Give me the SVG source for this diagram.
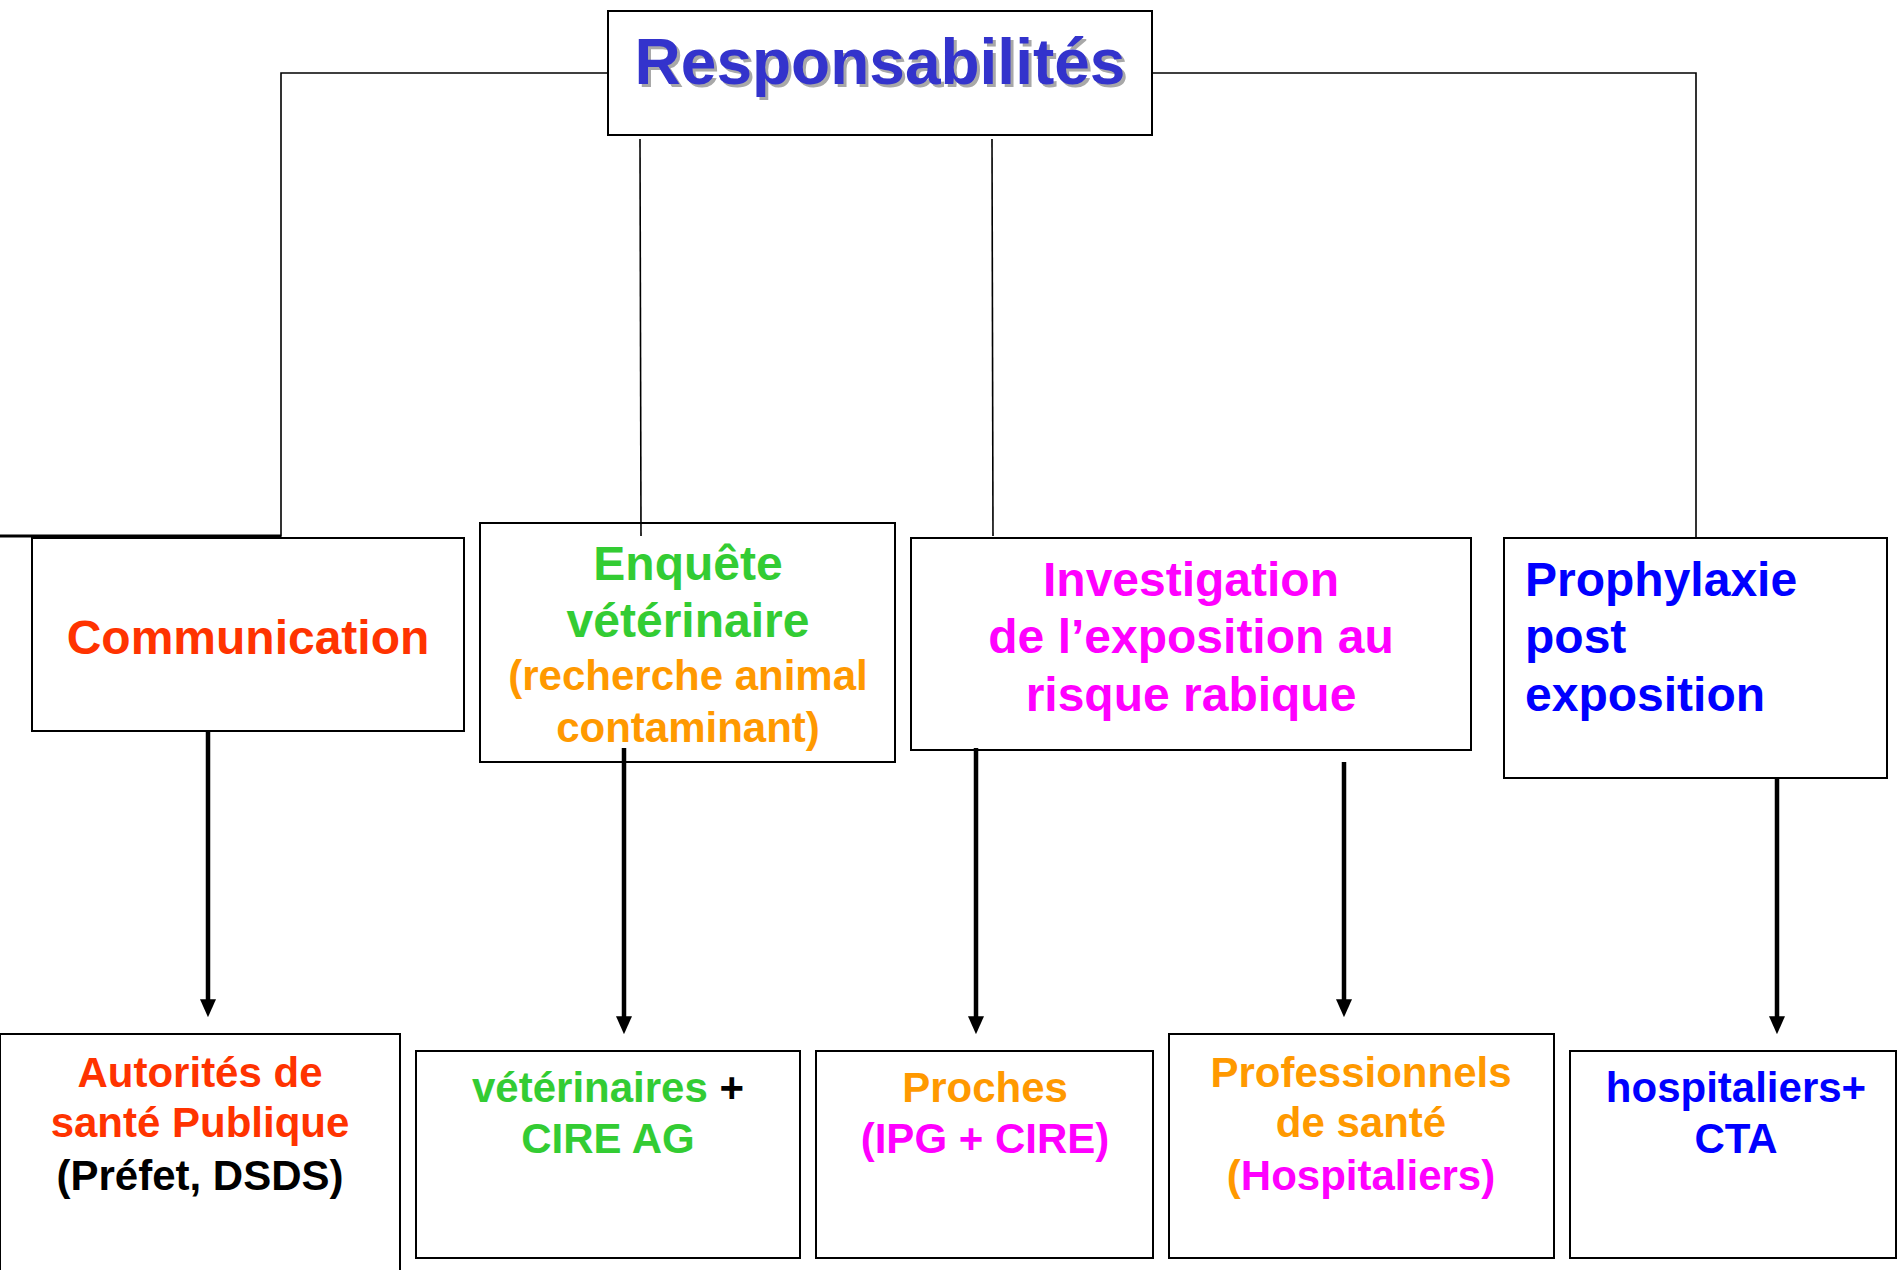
<svg xmlns="http://www.w3.org/2000/svg" width="1897" height="1270" viewBox="0 0 1897 1270">
<defs>
<style>
text{font-family:"Liberation Sans",Arial,sans-serif;font-weight:bold;}
.box{fill:#fff;stroke:#000;stroke-width:2;}
.thin{stroke:#000;stroke-width:1.6;fill:none;}
.arr{stroke:#000;stroke-width:4.5;fill:none;marker-end:url(#ah);}
.l2{font-size:48px;}
.l3{font-size:42px;}
.red{fill:#FF3300;}
.grn{fill:#33CC33;}
.org{fill:#FF9900;}
.mag{fill:#FF00FF;}
.blu{fill:#0000FF;}
.blk{fill:#000;}
</style>
<marker id="ah" markerWidth="4" markerHeight="5" refX="0.2" refY="2" orient="auto" markerUnits="strokeWidth" viewBox="0 0 4.5 4">
<path d="M0,0 L4.5,2 L0,4 z" fill="#000"/>
</marker>
</defs>
<rect width="1897" height="1270" fill="#fff"/>
<g id="responsabilites">
<rect class="box" x="608" y="11" width="544" height="124"/>
<text x="883" y="87" font-size="64" text-anchor="middle" fill="#A8A8A8">Responsabilités</text>
<text x="880" y="84" font-size="64" text-anchor="middle" fill="#3333CC">Responsabilités</text>
</g>
<g id="communication">
<rect class="box" x="32" y="538" width="432" height="193"/>
<text class="l2 red" x="248" y="654" text-anchor="middle">Communication</text>
</g>
<g id="enquete">
<rect class="box" x="480" y="523" width="415" height="239"/>
<text class="l2 grn" x="688" y="580" text-anchor="middle">Enquête</text>
<text class="l2 grn" x="688" y="637" text-anchor="middle">vétérinaire</text>
<text class="l3 org" x="688" y="690" text-anchor="middle">(recherche animal</text>
<text class="l3 org" x="688" y="742" text-anchor="middle">contaminant)</text>
</g>
<g id="investigation">
<rect class="box" x="911" y="538" width="560" height="212"/>
<text class="l2 mag" x="1191" y="596" text-anchor="middle">Investigation</text>
<text class="l2 mag" x="1191" y="653" text-anchor="middle">de l’exposition au</text>
<text class="l2 mag" x="1191" y="711" text-anchor="middle">risque rabique</text>
</g>
<g id="prophylaxie">
<rect class="box" x="1504" y="538" width="383" height="240"/>
<text class="l2 blu" x="1525" y="596">Prophylaxie</text>
<text class="l2 blu" x="1525" y="653">post</text>
<text class="l2 blu" x="1525" y="711">exposition</text>
</g>
<g id="autorites">
<rect class="box" x="0" y="1034" width="400" height="250"/>
<text class="l3 red" x="200" y="1087" text-anchor="middle">Autorités de</text>
<text class="l3 red" x="200" y="1137" text-anchor="middle">santé Publique</text>
<text class="l3 blk" x="200" y="1190" text-anchor="middle">(Préfet, DSDS)</text>
</g>
<g id="veterinaires">
<rect class="box" x="416" y="1051" width="384" height="207"/>
<text class="l3" x="608" y="1102" text-anchor="middle"><tspan class="grn">vétérinaires </tspan><tspan class="blk">+</tspan></text>
<text class="l3 grn" x="608" y="1153" text-anchor="middle">CIRE AG</text>
</g>
<g id="proches">
<rect class="box" x="816" y="1051" width="337" height="207"/>
<text class="l3 org" x="985" y="1102" text-anchor="middle">Proches</text>
<text class="l3 mag" x="985" y="1153" text-anchor="middle">(IPG + CIRE)</text>
</g>
<g id="professionnels">
<rect class="box" x="1169" y="1034" width="385" height="224"/>
<text class="l3 org" x="1361" y="1087" text-anchor="middle">Professionnels</text>
<text class="l3 org" x="1361" y="1137" text-anchor="middle">de santé</text>
<text class="l3" x="1361" y="1190" text-anchor="middle"><tspan class="org">(</tspan><tspan class="mag">Hospitaliers)</tspan></text>
</g>
<g id="hospitaliers">
<rect class="box" x="1570" y="1051" width="326" height="207"/>
<text class="l3 blu" x="1736" y="1102" text-anchor="middle">hospitaliers+</text>
<text class="l3 blu" x="1736" y="1153" text-anchor="middle">CTA</text>
</g>
<g id="connectors">
<polyline class="thin" points="607,73 281,73 281,536 0,536"/>
<line x1="0" y1="536" x2="281" y2="536" stroke="#000" stroke-width="3"/>
<polyline class="thin" points="1152,73 1696,73 1696,537"/>
<line class="thin" x1="640" y1="139" x2="641" y2="536"/>
<line class="thin" x1="992" y1="139" x2="993" y2="536"/>
<line class="arr" x1="208" y1="732" x2="208" y2="1000"/>
<line class="arr" x1="624" y1="748" x2="624" y2="1017"/>
<line class="arr" x1="976" y1="748" x2="976" y2="1017"/>
<line class="arr" x1="1344" y1="762" x2="1344" y2="1000"/>
<line class="arr" x1="1777" y1="779" x2="1777" y2="1017"/>
</g>
</svg>
